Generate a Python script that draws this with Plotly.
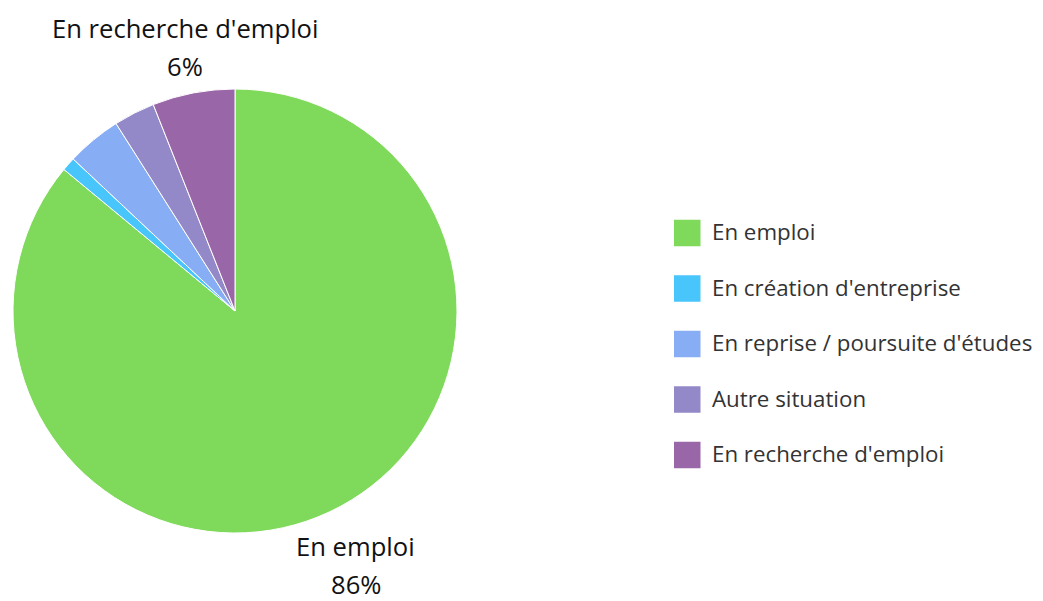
import math
import plotly.graph_objects as go

categories = ["En emploi", "En création d'entreprise", "En reprise / poursuite d'études",
              "Autre situation", "En recherche d'emploi"]
values = [86, 1, 4, 3, 6]
colors = ["#7fd95a", "#48c5fb", "#87adf4", "#9489c8", "#9966a7"]
shown_labels = ["En emploi", "En recherche d'emploi"]

W, H = 1043, 601
OFF = 8  # page body margin
CX, CY, R = 235, 311, 222
FONT = "Open Sans"
LABEL_SIZE = 25.6


def fx(px):
    return (px - OFF) / W


def fy(py):
    return 1 - (py - OFF) / H


fig = go.Figure()
fig.add_trace(go.Pie(
    labels=categories, values=values, sort=False, direction="clockwise", rotation=0,
    marker=dict(colors=colors, line=dict(color="white", width=1)),
    textinfo="none", hoverinfo="label+percent", showlegend=False,
    domain=dict(x=[fx(CX - R), fx(CX + R)], y=[fy(CY + R), fy(CY - R)]),
))

# outside data labels, positioned from each slice's middle angle
total = sum(values)
cum = 0
annotations = []
for cat, v in zip(categories, values):
    mid = (cum + v / 2) / total * 2 * math.pi
    cum += v
    if cat not in shown_labels:
        continue
    dist = R + 54 - 8 * math.cos(mid)
    px = CX + dist * math.sin(mid)
    py = CY - dist * math.cos(mid)
    py = min(py, H - 36)  # keep the block inside the window
    pct = f"{round(v / total * 100)}%"
    for txt, dy in ((cat, -19), (pct, 19)):
        annotations.append(dict(
            x=fx(px), y=fy(py + dy), xref="paper", yref="paper",
            text=txt, showarrow=False, xanchor="center", yanchor="middle",
            font=dict(family=FONT, size=LABEL_SIZE, color="#111111")))

# legend: swatches + text
shapes = []
LX, LY0, LSTEP, SW = 674, 233, 55.5, 26.5
for i, (cat, col) in enumerate(zip(categories, colors)):
    yc = LY0 + i * LSTEP
    shapes.append(dict(type="rect", xref="paper", yref="paper",
                       x0=fx(LX), x1=fx(LX + SW),
                       y0=fy(yc + SW / 2), y1=fy(yc - SW / 2),
                       fillcolor=col, line=dict(width=0)))
    annotations.append(dict(
        x=fx(LX + SW + 9), y=fy(yc - 1.5), xref="paper", yref="paper",
        text=cat, showarrow=False, xanchor="left", yanchor="middle",
        font=dict(family=FONT, size=22.3, color="#333333")))

fig.update_layout(
    width=W, height=H, margin=dict(l=0, r=0, t=0, b=0),
    paper_bgcolor="white", plot_bgcolor="white",
    annotations=annotations, shapes=shapes,
)
fig.write_html("out.html")
